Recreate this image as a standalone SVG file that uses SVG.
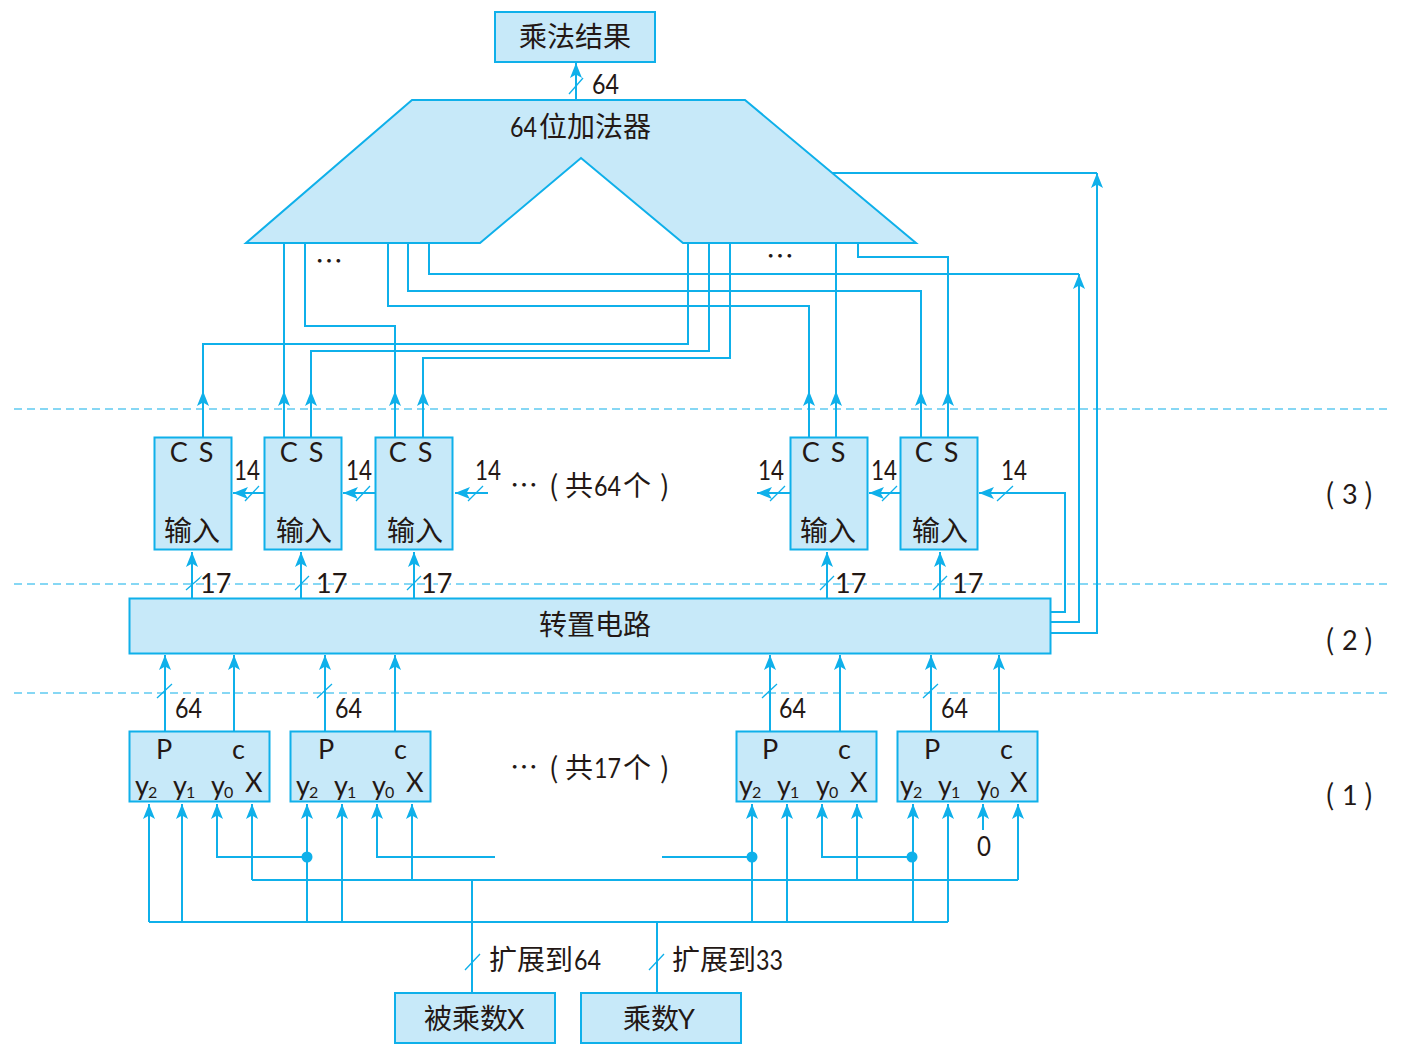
<svg xmlns="http://www.w3.org/2000/svg" width="1402" height="1060" viewBox="0 0 1402 1060">
<style>
.n{fill:#c7e9f9;stroke:#0fb0ea;stroke-width:2}
.l{fill:none;stroke:#0fb0ea;stroke-width:2}
.d{fill:none;stroke:#0fb0ea;stroke-width:1.2;stroke-dasharray:8 5}
.a{fill:none;stroke:#0fb0ea;stroke-width:2;marker-end:url(#ah)}
.s{fill:none;stroke:#0fb0ea;stroke-width:1.3}
text{fill:#231815;font-family:"Lato","Noto Sans CJK SC",sans-serif;font-size:27px}
.c{font-family:"Noto Sans CJK SC",sans-serif;font-weight:400;font-size:28px}
.m{text-anchor:middle}
.cs{word-spacing:4px}
.h{stroke:#fff;stroke-width:4;paint-order:stroke;stroke-linejoin:round}
.u{font-size:16px}
.t{font-family:"Lato",sans-serif;font-size:27px}
</style>
<defs>
<marker id="ah" markerUnits="userSpaceOnUse" markerWidth="18" markerHeight="16" refX="16" refY="8" orient="auto">
<path d="M16 8L1 2L4.500 8L1 14Z" fill="#0fb0ea"/>
</marker>
</defs>
<rect width="1402" height="1060" fill="#fff"/>
<g id="dashes">
<path class="d" d="M14 409H1388M14 584H1388M14 693H1388"/>
</g>
<g id="connectors">
<path class="a" d="M576 100V63"/>
<path class="s" d="M569 94L583 78"/>
<path class="l" d="M203 437V344H688V243M284 437V243M311 437V351H709V243M395 437V326H305V243M423 437V358H730V243M809 437V306H388V243M836 437V243M921 437V291H408V243M948 437V257H858V243M429 243V274H1079M832 173H1097M1051 622H1079V274M1051 633H1097V173M1051 612H1065V493H980"/>
<path class="a" d="M203 420V391"/><path class="a" d="M284 420V391"/><path class="a" d="M311 420V391"/><path class="a" d="M395 420V391"/><path class="a" d="M423 420V391"/><path class="a" d="M809 420V391"/><path class="a" d="M836 420V391"/><path class="a" d="M921 420V391"/><path class="a" d="M948 420V391"/>
<path class="a" d="M1079 300V274"/><path class="a" d="M1097 200V173"/>
<path class="a" d="M192 598V552"/><path class="a" d="M301 598V552"/><path class="a" d="M414 598V552"/><path class="a" d="M827 598V552"/><path class="a" d="M940 598V552"/>
<path class="s" d="M186 590L202 576M295 590L309 576M407 590L421 576M820 590L834 576M933 590L947 576"/>
<path class="a" d="M264 493H233"/><path class="a" d="M375 493H343"/><path class="a" d="M488 493H455"/><path class="a" d="M790 493H757"/><path class="a" d="M900 493H869"/><path class="a" d="M1000 493H979"/>
<path class="s" d="M245 501L259 486M356 501L370 486M468 501L483 486M770 501L785 486M882 501L897 486M997 501L1013 486"/>
<path class="a" d="M165 731V655"/><path class="a" d="M234 731V655"/><path class="a" d="M325 731V655"/><path class="a" d="M395 731V655"/><path class="a" d="M770 731V655"/><path class="a" d="M840 731V655"/><path class="a" d="M931 731V655"/><path class="a" d="M999 731V655"/>
<path class="s" d="M157 698L172 684M317 698L332 684M762 698L777 684M923 698L938 684"/>
<path class="l" d="M149 922H948M149 922V830M182 922V830M307 922V830M342 922V830M752 922V830M787 922V830M913 922V830M948 922V830M657 992V922M252 880H1018M252 880V830M412 880V830M857 880V830M1018 880V830M472 992V880M217 830V857H307M377 830V857H495M662 857H752M822 830V857H913"/>
<path class="a" d="M149 830V804"/><path class="a" d="M182 830V804"/><path class="a" d="M217 830V804"/><path class="a" d="M252 830V804"/><path class="a" d="M307 830V804"/><path class="a" d="M342 830V804"/><path class="a" d="M377 830V804"/><path class="a" d="M412 830V804"/><path class="a" d="M752 830V804"/><path class="a" d="M787 830V804"/><path class="a" d="M822 830V804"/><path class="a" d="M857 830V804"/><path class="a" d="M913 830V804"/><path class="a" d="M948 830V804"/><path class="a" d="M983 830V804"/><path class="a" d="M1018 830V804"/>
<circle cx="307" cy="857" r="5.500" fill="#0fb0ea"/><circle cx="752" cy="857" r="5.500" fill="#0fb0ea"/><circle cx="912" cy="857" r="5.500" fill="#0fb0ea"/>
<path class="s" d="M465 970L480 954M649 970L664 954"/>
</g>
<g id="result"><rect class="n" x="495" y="12" width="160" height="50"/><text class="c m" x="575" y="47">乘法结果</text></g>
<text x="592" y="94" textLength="27" lengthAdjust="spacingAndGlyphs">64</text>
<g id="adder"><polygon class="n" points="412,100 745,100 916,243 683,243 581,158 480,243 246,243"/><text x="510" y="137" class="t" textLength="27" lengthAdjust="spacingAndGlyphs">64</text><text class="c" x="539" y="137">位加法器</text></g>
<text class="c" x="315" y="272">…</text>
<text class="c" x="766" y="267">…</text>
<g id="csa3-1"><rect class="n" x="154.500" y="437.500" width="77" height="112"/><text class="m cs" x="191.500" y="462">C S</text><text class="c m" x="192" y="541">输入</text></g>
<g id="csa3-2"><rect class="n" x="264.500" y="437.500" width="77" height="112"/><text class="m cs" x="301.500" y="462">C S</text><text class="c m" x="304" y="541">输入</text></g>
<g id="csa3-3"><rect class="n" x="375.500" y="437.500" width="77" height="112"/><text class="m cs" x="410.500" y="462">C S</text><text class="c m" x="415" y="541">输入</text></g>
<g id="csa3-4"><rect class="n" x="790.500" y="437.500" width="77" height="112"/><text class="m cs" x="823.500" y="462">C S</text><text class="c m" x="828" y="541">输入</text></g>
<g id="csa3-5"><rect class="n" x="900.500" y="437.500" width="77" height="112"/><text class="m cs" x="936.500" y="462">C S</text><text class="c m" x="940" y="541">输入</text></g>
<g id="lbl14"><text x="234" y="480" textLength="26" lengthAdjust="spacingAndGlyphs">14</text><text x="346" y="480" textLength="26" lengthAdjust="spacingAndGlyphs">14</text><text x="475" y="480" textLength="26" lengthAdjust="spacingAndGlyphs">14</text><text x="758" y="480" textLength="26" lengthAdjust="spacingAndGlyphs">14</text><text x="871" y="480" textLength="26" lengthAdjust="spacingAndGlyphs">14</text><text x="1001" y="480" textLength="26" lengthAdjust="spacingAndGlyphs">14</text></g>
<text y="496"><tspan class="c" x="510">…</tspan><tspan class="c" x="549">(</tspan><tspan class="c" x="565">共</tspan><tspan x="594" textLength="27" lengthAdjust="spacingAndGlyphs">64</tspan><tspan class="c" x="623">个</tspan><tspan class="c" x="660">)</tspan></text>
<text y="778"><tspan class="c" x="510">…</tspan><tspan class="c" x="549">(</tspan><tspan class="c" x="565">共</tspan><tspan x="594" textLength="27" lengthAdjust="spacingAndGlyphs">17</tspan><tspan class="c" x="623">个</tspan><tspan class="c" x="660">)</tspan></text>
<g id="lbl17"><text class="h" x="200" y="593">17</text><text class="h" x="316" y="593">17</text><text class="h" x="421" y="593">17</text><text class="h" x="835" y="593">17</text><text class="h" x="952" y="593">17</text></g>
<g id="transpose"><rect class="n" x="129.500" y="598.500" width="921" height="55"/><text class="c m" x="595" y="635">转置电路</text></g>
<g id="lbl64"><text x="175" y="718" textLength="27" lengthAdjust="spacingAndGlyphs">64</text><text x="335" y="718" textLength="27" lengthAdjust="spacingAndGlyphs">64</text><text x="779" y="718" textLength="27" lengthAdjust="spacingAndGlyphs">64</text><text x="941" y="718" textLength="27" lengthAdjust="spacingAndGlyphs">64</text></g>
<g id="mul1"><rect class="n" x="129.500" y="731.500" width="140" height="70"/><text x="156" y="759">P</text><text x="232" y="759">c</text><text x="135" y="795">y</text><text class="u" x="148" y="798">2</text><text x="173" y="795">y</text><text class="u" x="186" y="798">1</text><text x="211" y="795">y</text><text class="u" x="224" y="798">0</text><text x="245" y="792">X</text></g>
<g id="mul2"><rect class="n" x="290.500" y="731.500" width="140" height="70"/><text x="318" y="759">P</text><text x="394" y="759">c</text><text x="296" y="795">y</text><text class="u" x="309" y="798">2</text><text x="334" y="795">y</text><text class="u" x="347" y="798">1</text><text x="372" y="795">y</text><text class="u" x="385" y="798">0</text><text x="406" y="792">X</text></g>
<g id="mul3"><rect class="n" x="736.500" y="731.500" width="140" height="70"/><text x="762" y="759">P</text><text x="838" y="759">c</text><text x="739" y="795">y</text><text class="u" x="752" y="798">2</text><text x="777" y="795">y</text><text class="u" x="790" y="798">1</text><text x="816" y="795">y</text><text class="u" x="829" y="798">0</text><text x="850" y="792">X</text></g>
<g id="mul4"><rect class="n" x="897.500" y="731.500" width="140" height="70"/><text x="924" y="759">P</text><text x="1000" y="759">c</text><text x="900" y="795">y</text><text class="u" x="913" y="798">2</text><text x="938" y="795">y</text><text class="u" x="951" y="798">1</text><text x="977" y="795">y</text><text class="u" x="990" y="798">0</text><text x="1010" y="792">X</text></g>
<text x="977" y="856" textLength="14" lengthAdjust="spacingAndGlyphs">0</text>
<text y="504"><tspan class="c" x="1325">(</tspan><tspan x="1342">3</tspan><tspan class="c" x="1364">)</tspan></text>
<text y="650"><tspan class="c" x="1325">(</tspan><tspan x="1342">2</tspan><tspan class="c" x="1364">)</tspan></text>
<text y="805"><tspan class="c" x="1325">(</tspan><tspan x="1342">1</tspan><tspan class="c" x="1364">)</tspan></text>
<text y="970"><tspan class="c" x="489">扩展到</tspan><tspan x="574" textLength="27" lengthAdjust="spacingAndGlyphs">64</tspan></text>
<text y="970"><tspan class="c" x="672">扩展到</tspan><tspan x="756" textLength="27" lengthAdjust="spacingAndGlyphs">33</tspan></text>
<g id="multiplicand"><rect class="n" x="395" y="993" width="160" height="50"/><text y="1029"><tspan class="c" x="424">被乘数</tspan><tspan x="507">X</tspan></text></g>
<g id="multiplier"><rect class="n" x="581" y="993" width="160" height="50"/><text y="1029"><tspan class="c" x="623">乘数</tspan><tspan x="678">Y</tspan></text></g>
</svg>
